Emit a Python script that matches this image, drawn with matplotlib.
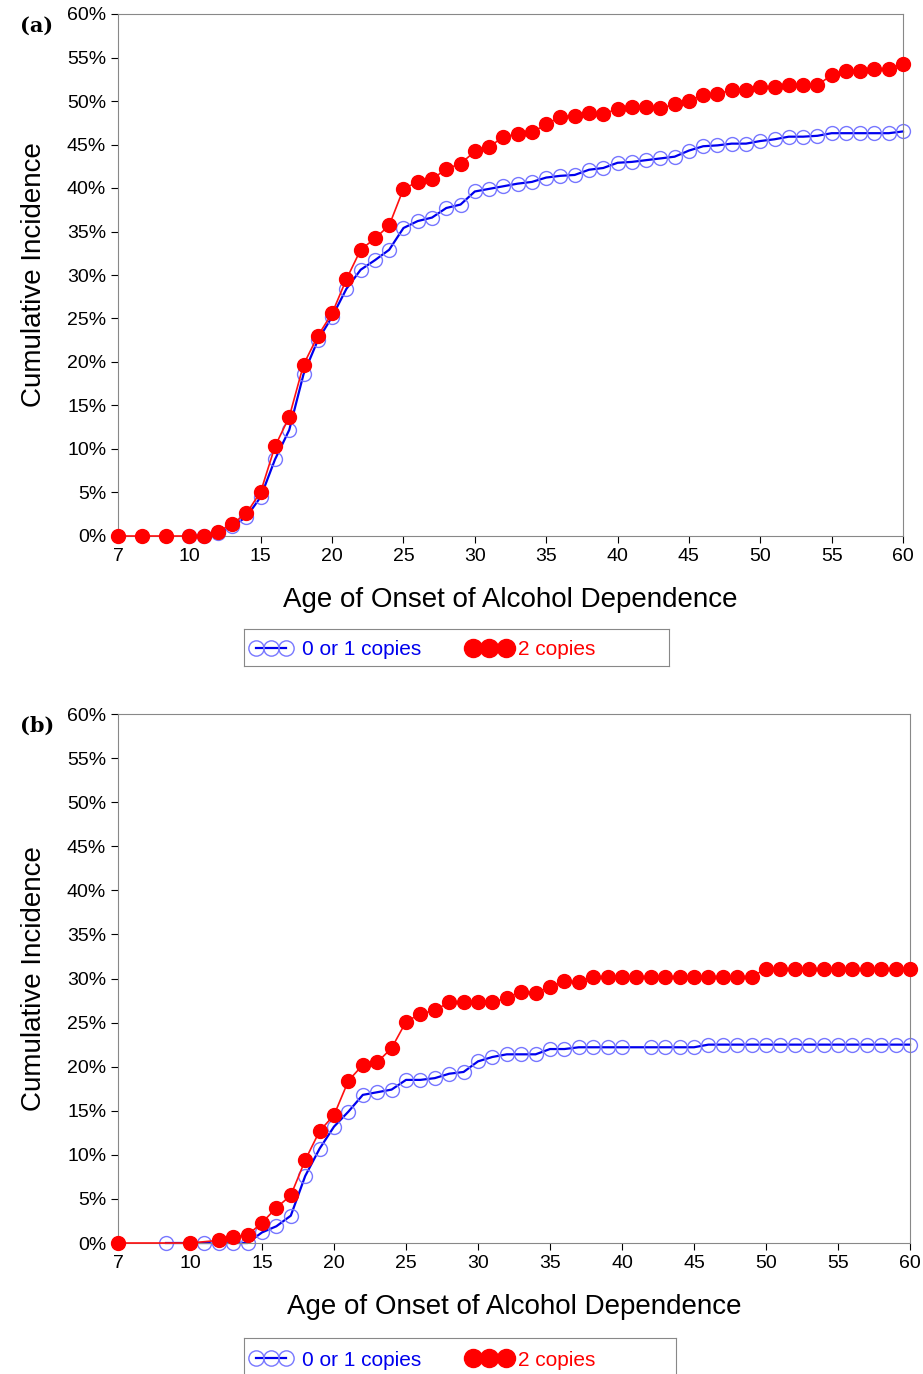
import matplotlib
matplotlib.use("Agg")
import matplotlib.pyplot as plt
import numpy as np

plt.rcParams['font.family'] = ['Liberation Sans', 'DejaVu Sans']

# Panel (a)
a_red_age = [7, 8, 9, 10, 11] + list(range(12, 61))
a_red = [0, 0, 0, 0, 0, 0.5, 1.4, 2.6, 5.1, 10.3, 13.7, 19.7, 23.0, 25.6, 29.5, 32.9, 34.2, 35.7,
         39.9, 40.7, 41.0, 42.2, 42.8, 44.2, 44.7, 45.9, 46.2, 46.4, 47.3, 48.2, 48.3, 48.6, 48.5,
         49.1, 49.3, 49.3, 49.2, 49.6, 50.0, 50.7, 50.8, 51.3, 51.3, 51.6, 51.6, 51.8, 51.8, 51.8,
         53.0, 53.4, 53.4, 53.7, 53.7, 54.2]
a_blue_age = list(range(10, 61))
a_blue = [0, 0, 0.3, 1.1, 2.2, 4.5, 8.8, 12.2, 18.6, 22.5, 25.2, 28.4, 30.6, 31.7, 32.9,
          35.4, 36.2, 36.6, 37.7, 38.1, 39.6, 39.9, 40.2, 40.5, 40.7, 41.2, 41.4, 41.5, 42.1, 42.3,
          42.9, 43.0, 43.2, 43.4, 43.6, 44.3, 44.8, 44.9, 45.1, 45.1, 45.4, 45.6, 45.9, 45.9, 46.0,
          46.3, 46.3, 46.3, 46.3, 46.3, 46.5]

# Panel (b)
b_red_age = [7, 10] + list(range(12, 61))
b_red = [0, 0, 0.3, 0.7, 0.9, 2.3, 4.0, 5.4, 9.4, 12.7, 14.5, 18.4, 20.2, 20.5, 22.1, 25.1, 26.0,
         26.4, 27.3, 27.3, 27.3, 27.3, 27.8, 28.5, 28.4, 29.0, 29.7, 29.6] + [30.2] * 12 + [31.1] * 11
b_blue_age = [9, 11, 12, 13, 14] + list(range(15, 41)) + list(range(42, 61))
b_blue = [0, 0, 0, 0, 0, 1.2, 1.9, 3.1, 7.6, 10.7, 13.2, 14.9, 16.8, 17.1, 17.4, 18.5, 18.5,
          18.7, 19.2, 19.4, 20.6, 21.1, 21.4, 21.4, 21.4, 22.0, 22.0, 22.2, 22.2, 22.2, 22.2] + \
         [22.2] * 4 + [22.5] * 15

tick_labels = ['7', '10', '15', '20', '25', '30', '35', '40', '45', '50', '55', '60']
tick_ages = [7, 10, 15, 20, 25, 30, 35, 40, 45, 50, 55, 60]


def pos(ages):
    a = np.asarray(ages, dtype=float)
    return np.where(a >= 10, a, 10 - (10 - a) * 5 / 3)


fig = plt.figure(figsize=(9.23, 13.74), dpi=100)
W, H = 923, 1374


def make(box, label, rx, ry, bx, by, legbox):
    l, t, r, b = box
    ax = fig.add_axes([l / W, 1 - b / H, (r - l) / W, (b - t) / H])
    ax.plot(pos(bx), by, color='#0000ee', lw=1.6, marker='o', ms=10, mfc='none',
            mec='#7777ff', mew=1.0, zorder=2, clip_on=False)
    ax.plot(pos(rx), ry, color='#ff1010', lw=1.2, marker='o', ms=10, mfc='#ff0000',
            mec='#ff0000', zorder=3, clip_on=False)
    ax.set_xlim(5, 60)
    ax.set_ylim(0, 60)
    ax.set_xticks(pos(tick_ages))
    ax.set_xticklabels(tick_labels, fontsize=14)
    ax.set_yticks(range(0, 61, 5))
    ax.set_yticklabels([f'{v}%' for v in range(0, 61, 5)], fontsize=14)
    for s in ax.spines.values():
        s.set_color('#888888')
    ax.tick_params(colors='black', length=5)
    ax.set_ylabel('Cumulative Incidence', fontsize=20, labelpad=14)
    ax.set_xlabel('Age of Onset of Alcohol Dependence', fontsize=20, labelpad=16)
    fig.text(20 / W, 1 - (t + 12) / H, label, fontsize=15, fontweight='bold',
             family='DejaVu Serif', va='center')
    ll, lt, lr, lb = legbox
    lax = fig.add_axes([ll / W, 1 - lb / H, (lr - ll) / W, (lb - lt) / H])
    lax.set_xticks([]); lax.set_yticks([])
    for s in lax.spines.values():
        s.set_color('#888888')
    lax.set_xlim(0, 1); lax.set_ylim(0, 1)
    w = lr - ll
    xs = np.array([12, 27, 42]) / w
    lax.plot(xs, [0.5] * 3, color='#0000ee', lw=1.6, marker='o', ms=11, mfc='none', mec='#7777ff')
    lax.text(58 / w, 0.45, '0 or 1 copies', color='#0000ee', fontsize=15, va='center')
    xr = np.array([229, 245, 262]) / w
    lax.plot(xr, [0.5] * 3, color='#ff1010', lw=1.2, marker='o', ms=13, mfc='#ff0000', mec='#ff0000')
    lax.text(274 / w, 0.45, '2 copies', color='#ff0000', fontsize=15, va='center')


make((118, 14, 903, 536), '(a)', a_red_age, a_red, a_blue_age, a_blue, (244, 629, 669, 666))
make((118, 714, 910, 1243), '(b)', b_red_age, b_red, b_blue_age, b_blue, (244, 1338, 676, 1378))

fig.savefig('out.png', dpi=100)
